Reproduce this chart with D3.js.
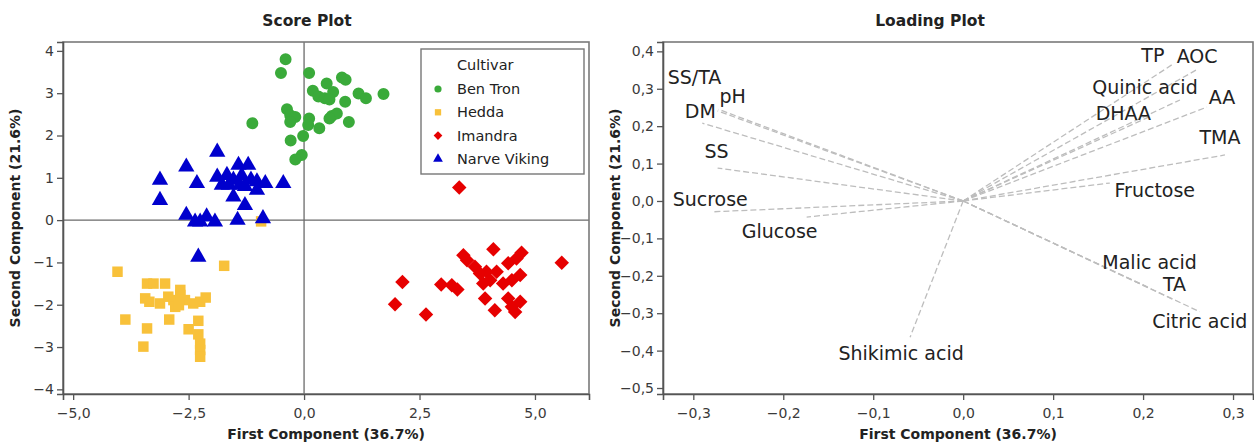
<!DOCTYPE html>
<html><head><meta charset="utf-8">
<script src="https://cdn.jsdelivr.net/npm/d3@7"></script>
<style>
html,body{margin:0;padding:0;background:#fff;}
svg{display:block;}
</style></head>
<body>
<svg id="chart" width="1254" height="445"></svg>
<script>
// ---------------- DATA ----------------
const cultivars = ["Ben Tron", "Hedda", "Imandra", "Narve Viking"];
const benTron = [[-0.40,3.80],[-0.50,3.48],[0.11,3.48],[0.82,3.37],[0.90,3.32],[0.49,3.23],[0.19,3.06],[0.31,2.92],[0.45,2.88],[0.63,3.03],[1.18,2.99],[1.34,2.88],[1.72,2.98],[0.89,2.80],[0.55,2.85],[-0.37,2.62],[-0.30,2.48],[-0.19,2.44],[-0.30,2.32],[0.11,2.40],[0.09,2.25],[0.33,2.17],[0.60,2.46],[0.71,2.52],[0.55,2.40],[0.97,2.32],[-1.12,2.29],[-0.02,1.99],[-0.29,1.88],[-0.05,1.54],[-0.19,1.43]];
const hedda = [[-4.04,-1.22],[-1.73,-1.08],[-3.40,-1.50],[-3.26,-1.50],[-3.01,-1.50],[-3.44,-1.85],[-3.35,-1.93],[-3.12,-1.97],[-2.94,-1.81],[-2.83,-1.89],[-2.68,-1.65],[-2.68,-1.77],[-2.58,-1.89],[-2.79,-2.05],[-2.71,-2.01],[-2.40,-1.97],[-2.25,-1.93],[-2.13,-1.83],[-3.87,-2.35],[-3.40,-2.56],[-2.92,-2.35],[-2.50,-2.58],[-2.29,-2.38],[-2.29,-2.70],[-2.25,-2.92],[-2.25,-3.07],[-2.25,-3.23],[-3.48,-2.99],[-0.93,-0.03]];
const imandra = [[2.13,-1.46],[1.97,-1.99],[2.64,-2.23],[2.97,-1.52],[3.20,-1.54],[3.32,-1.64],[3.36,0.77],[4.10,-0.69],[3.45,-0.83],[3.53,-0.95],[3.70,-1.10],[3.81,-1.26],[3.95,-1.22],[4.17,-1.22],[4.03,-1.42],[3.88,-1.50],[4.31,-1.50],[4.50,-1.42],[4.68,-1.30],[4.42,-1.02],[4.60,-0.91],[4.71,-0.77],[5.58,-1.01],[3.92,-1.85],[4.13,-2.13],[4.42,-1.85],[4.68,-1.93],[4.57,-2.17],[4.50,-2.05]];
const narveViking = [[-3.12,0.95],[-3.12,0.47],[-2.55,1.26],[-2.32,0.87],[-1.88,1.61],[-1.88,1.02],[-1.67,1.06],[-1.42,1.30],[-1.21,1.30],[-1.53,0.95],[-1.39,0.83],[-1.02,0.91],[-0.84,0.87],[-0.45,0.87],[-1.02,0.71],[-1.28,0.80],[-1.63,0.83],[-1.78,0.83],[-1.53,0.55],[-1.28,0.35],[-2.55,0.12],[-2.36,-0.04],[-2.11,0.08],[-1.93,-0.04],[-2.25,-0.04],[-1.44,0.00],[-0.89,0.04],[-2.29,-0.87],[-1.35,1.05],[-1.15,0.95]];

const scoreXTicks = [-5, -2.5, 0, 2.5, 5];
const scoreYTicks = [-4, -3, -2, -1, 0, 1, 2, 3, 4];

const loadingNames = ["SS/TA","pH","DM","SS","Sucrose","Glucose","Shikimic acid","Fructose","TMA","AA","AOC","TP","Quinic acid","DHAA","Malic acid","TA","Citric acid"];
const loadingPC1 = [-0.272,-0.273,-0.290,-0.273,-0.279,-0.174,-0.059,0.163,0.291,0.271,0.259,0.232,0.241,0.207,0.205,0.235,0.263];
const loadingPC2 = [0.245,0.241,0.208,0.088,-0.029,-0.043,-0.364,0.048,0.123,0.251,0.350,0.364,0.270,0.225,-0.230,-0.265,-0.296];

const loadingXTicks = [-0.3,-0.2,-0.1,0.0,0.1,0.2,0.3];
const loadingYTicks = [-0.5,-0.4,-0.3,-0.2,-0.1,0.0,0.1,0.2,0.3,0.4];

// ---------------- LAYOUT / STYLE ----------------
const colors = {"Ben Tron":"#3aaa3a","Hedda":"#f8c13a","Imandra":"#e60000","Narve Viking":"#0000cd"};
const symbols = {"Ben Tron":"circle","Hedda":"square","Imandra":"diamond","Narve Viking":"triangle"};
// label offsets (px) relative to loading end point
const labelOffset = {
 "SS/TA":[-24,-32],"pH":[15,-15],"DM":[-2,-12],"SS":[-1,-17],"Sucrose":[-2,-13],"Glucose":[-27,14],
 "Shikimic acid":[-9,16],"Fructose":[45,7],"TMA":[-5,-18],"AA":[15,-10],"AOC":[1,-14],"TP":[-19,-10],
 "Quinic acid":[-35,-13],"DHAA":[-26,-4],"Malic acid":[2,-25],"TA":[0,-16],"Citric acid":[0,9]
};
const fontMain = "'DejaVu Sans', Verdana, sans-serif";
const fontCond = "'DejaVu Sans', sans-serif";

const svg = d3.select("#chart");
const fmt1 = v => d3.format(".1f")(v).replace(".", ",");

function symPath(kind, scale) {
  const s = scale || 1;
  if (kind === "circle") return d3.symbol(d3.symbolCircle, 113 * s * s)();
  if (kind === "square") return d3.symbol(d3.symbolSquare, 110 * s * s)();
  if (kind === "diamond") return d3.symbol(d3.symbolSquare, 105 * s * s)();
  return d3.symbol(d3.symbolTriangle, 115 * s * s)();
}

function drawAxes(g, x, y, xTicks, yTicks, xFmt, yFmt) {
  const [x0, x1] = x.range(), [y0, y1] = y.range();
  g.append("rect").attr("x", x0).attr("y", y1).attr("width", x1 - x0).attr("height", y0 - y1)
    .attr("fill", "none").attr("stroke", "#7a7a7a").attr("stroke-width", 1.6);
  const ax = g.append("g").attr("transform", `translate(0,${y0})`)
    .call(d3.axisBottom(x).tickValues(xTicks).tickFormat(xFmt).tickSize(6).tickPadding(8));
  const ay = g.append("g").attr("transform", `translate(${x0},0)`)
    .call(d3.axisLeft(y).tickValues(yTicks).tickFormat(yFmt).tickSize(6).tickPadding(3));
  [ax, ay].forEach(a => {
    a.select(".domain").attr("stroke", "#555").attr("stroke-width", 1.6);
    a.selectAll(".tick line").attr("stroke", "#555").attr("stroke-width", 1.3);
    a.selectAll(".tick text").attr("fill", "#3a3a3a").style("font-family", fontCond).style("font-size", "14px");
  });
}

function axisTitles(g, x, y, title, titleX) {
  const [x0, x1] = x.range(), [y0, y1] = y.range();
  g.append("text").attr("x", titleX).attr("y", 26).attr("text-anchor", "middle")
    .style("font-family", fontMain).style("font-weight", "bold").style("font-size", "15.5px").attr("fill", "#222").text(title);
  g.append("text").attr("x", (x0 + x1) / 2).attr("y", 439).attr("text-anchor", "middle")
    .style("font-family", fontMain).style("font-weight", "bold").style("font-size", "14px").attr("fill", "#222")
    .text("First Component (36.7%)");
  g.append("text").attr("transform", `translate(${x0 - 43},${(y0 + y1) / 2}) rotate(-90)`).attr("text-anchor", "middle")
    .style("font-family", fontMain).style("font-weight", "bold").style("font-size", "14px").attr("fill", "#222")
    .text("Second Component (21.6%)");
}

// ---------------- SCORE PLOT ----------------
const xS = d3.scaleLinear().domain([-5.22, 6.17]).range([63, 589]);
const yS = d3.scaleLinear().domain([-4.11, 4.21]).range([394, 42]);
const gS = svg.append("g");
gS.append("line").attr("x1", xS(0)).attr("x2", xS(0)).attr("y1", yS.range()[1]).attr("y2", yS.range()[0])
  .attr("stroke", "#6a6a6a").attr("stroke-width", 1.3);
gS.append("line").attr("x1", xS.range()[0]).attr("x2", xS.range()[1]).attr("y1", yS(0)).attr("y2", yS(0))
  .attr("stroke", "#6a6a6a").attr("stroke-width", 1.3);

const series = [["Ben Tron", benTron], ["Hedda", hedda], ["Imandra", imandra], ["Narve Viking", narveViking]];
series.forEach(([name, pts]) => {
  const rot = symbols[name] === "diamond" ? " rotate(45)" : "";
  gS.append("g").selectAll("path").data(pts).join("path")
    .attr("d", symPath(symbols[name]))
    .attr("transform", d => `translate(${xS(d[0])},${yS(d[1])})${rot}`)
    .attr("fill", colors[name]);
});
drawAxes(gS, xS, yS, scoreXTicks, scoreYTicks, fmt1, d3.format("d"));
axisTitles(gS, xS, yS, "Score Plot", 307);

// legend
const lg = gS.append("g");
lg.append("rect").attr("x", 421).attr("y", 49).attr("width", 163).attr("height", 125)
  .attr("fill", "#fff").attr("stroke", "#777").attr("stroke-width", 1.4);
lg.append("text").attr("x", 457).attr("y", 70).text("Cultivar")
  .style("font-family", fontCond).style("font-size", "14.5px").attr("fill", "#222");
cultivars.forEach((c, i) => {
  const cy = 89 + i * 23.3;
  const rot = symbols[c] === "diamond" ? " rotate(45)" : "";
  lg.append("path").attr("d", symPath(symbols[c], 0.6)).attr("transform", `translate(438,${cy})${rot}`).attr("fill", colors[c]);
  lg.append("text").attr("x", 457).attr("y", cy + 5).text(c)
    .style("font-family", fontCond).style("font-size", "14.5px").attr("fill", "#222");
});

// ---------------- LOADING PLOT ----------------
const xL = d3.scaleLinear().domain([-0.3337, 0.3222]).range([663, 1253]);
const yL = d3.scaleLinear().domain([-0.516, 0.425]).range([394, 42]);
const gL = svg.append("g");
const loadings = loadingNames.map((n, i) => ({name: n, x: loadingPC1[i], y: loadingPC2[i]}));
gL.append("g").selectAll("line").data(loadings).join("line")
  .attr("x1", xL(0)).attr("y1", yL(0)).attr("x2", d => xL(d.x)).attr("y2", d => yL(d.y))
  .attr("stroke", "#bdbdbd").attr("stroke-width", 1.3).attr("stroke-dasharray", "6,3");
gL.append("g").selectAll("text").data(loadings).join("text")
  .attr("x", d => xL(d.x) + labelOffset[d.name][0])
  .attr("y", d => yL(d.y) + labelOffset[d.name][1])
  .attr("text-anchor", "middle").attr("dominant-baseline", "central")
  .style("font-family", fontCond).style("font-size", "19px").attr("fill", "#222")
  .text(d => d.name);
drawAxes(gL, xL, yL, loadingXTicks, loadingYTicks, fmt1, fmt1);
axisTitles(gL, xL, yL, "Loading Plot", 930);
</script>
</body></html>
